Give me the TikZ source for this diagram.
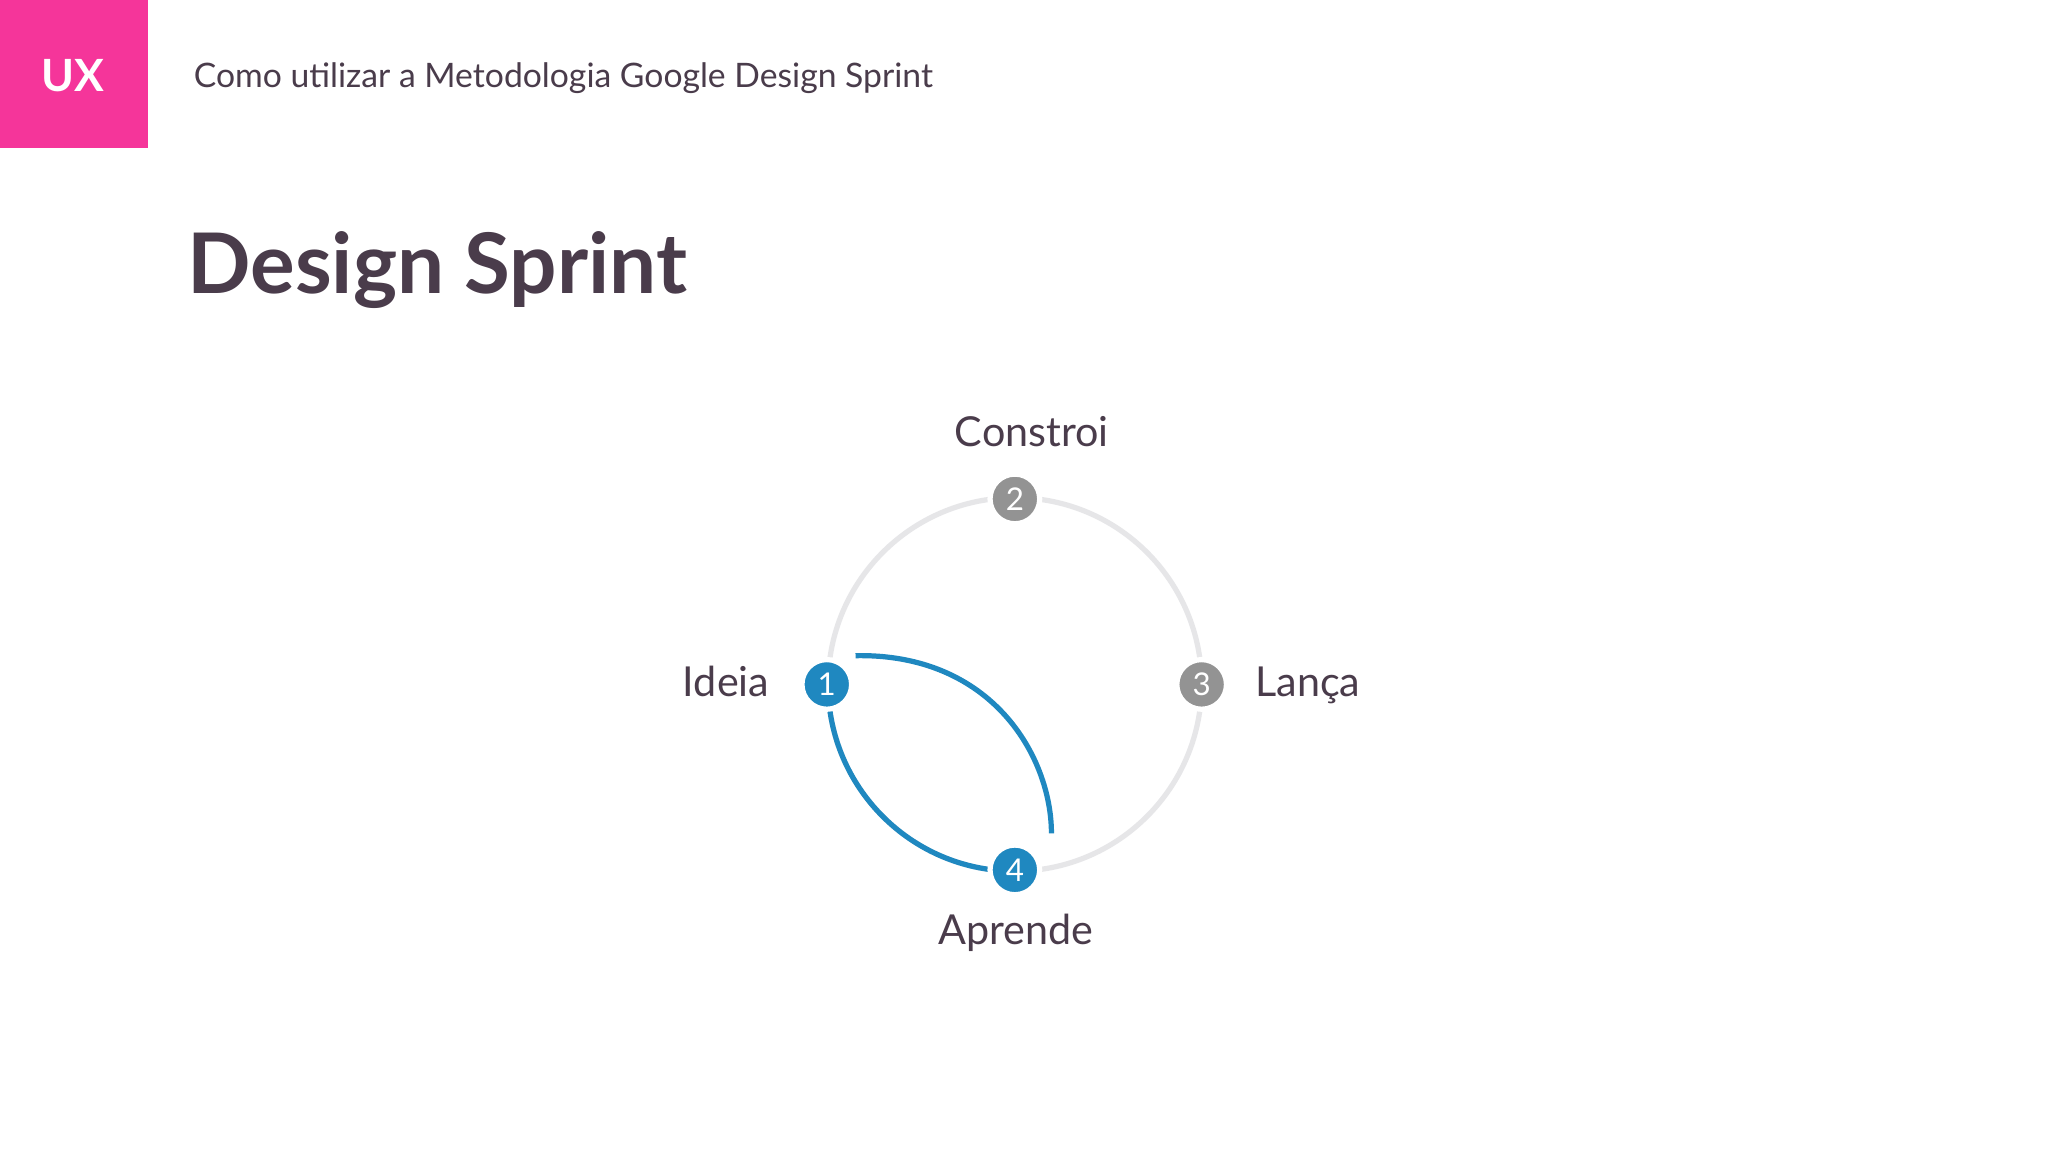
\documentclass[tikz,border=0pt]{standalone}
\usepackage{fontspec}
\setmainfont{Lato}
\definecolor{pinkux}{HTML}{F5359A}
\definecolor{txt}{HTML}{4A3C4B}
\definecolor{blu}{HTML}{1F88C0}
\definecolor{gr}{HTML}{939393}
\definecolor{ring}{HTML}{E6E6E8}
\begin{document}
\begin{tikzpicture}[x=0.5pt,y=-0.5pt,
  dot/.style={circle,minimum size=19pt,inner sep=0pt,draw=white,line width=2pt,text=white,font=\fontsize{12}{12}\selectfont},
  lbl/.style={text=txt,font=\fontsize{15.8}{15.8}\selectfont}]
\useasboundingbox (0,0) rectangle (1568,882);
\fill[white] (0,0) rectangle (1568,882);
\fill[pinkux] (0,0) rectangle (113,113);
\node[text=white,font=\bfseries\fontsize{17}{17}\selectfont] (ux) at (56,58) {UX};
\node[anchor=west,text=txt,font=\fontsize{12.9}{12.9}\selectfont,inner sep=0pt] (sub) at (148,60) {Como utilizar a Metodologia Google Design Sprint};
\node[anchor=west,text=txt,font=\bfseries\fontsize{32}{32}\selectfont,inner sep=0pt] (title) at (143,207) {Design Sprint};
\draw[ring,line width=2pt] (777,524) circle[radius=143];
\draw[blu,line width=2pt] (634,524) arc[start angle=180,end angle=90,radius=143];
\draw[blu,line width=2pt] (655,502) .. controls (760,500) and (805,580) .. (805,638);
\node[dot,fill=blu] (n1) at (633,524) {1};
\node[dot,fill=gr] (n2) at (777,382) {2};
\node[dot,fill=gr] (n3) at (920,524) {3};
\node[dot,fill=blu] (n4) at (777,666) {4};
\node[lbl,anchor=base] (l2) at (790,342) {Constroi};
\node[lbl,anchor=base east] (l1) at (596,533) {Ideia};
\node[lbl,anchor=base west] (l3) at (954,533) {Lança};
\node[lbl,anchor=base] (l4) at (778,723) {Aprende};
\end{tikzpicture}
\end{document}
